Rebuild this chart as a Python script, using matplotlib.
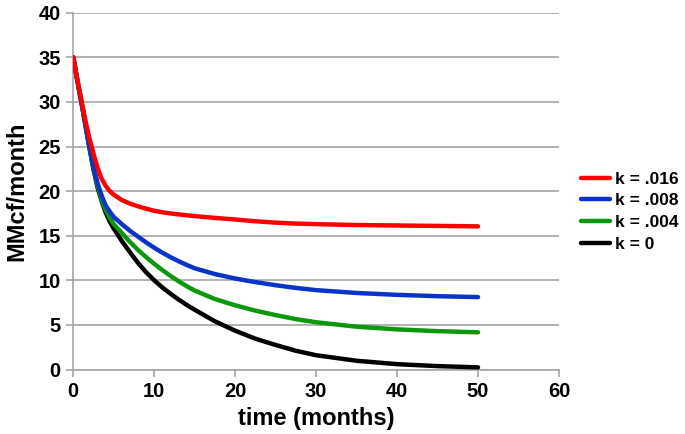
import matplotlib.pyplot as plt

plt.rcParams["font.family"] = ["Liberation Sans", "DejaVu Sans"]

# time (months) and production rate (MMcf/month)
months = [0, 0.5, 1, 1.5, 2, 2.5, 3, 3.5, 4, 4.5, 5, 6, 7, 8, 9, 10, 11, 12, 13, 14,
          15, 17.5, 20, 22.5, 25, 27.5, 30, 35, 40, 45, 50]

rate_k016 = [35, 32.5, 30.2, 27.9, 25.9, 24.2, 22.6, 21.4, 20.6, 20.0, 19.6, 19.0, 18.6,
             18.3, 18.03, 17.8, 17.63, 17.5, 17.39, 17.29, 17.2, 17.0, 16.82, 16.62,
             16.47, 16.36, 16.3, 16.2, 16.15, 16.1, 16.05]
rate_k008 = [35, 32.4, 30.0, 27.5, 25.0, 22.8, 20.9, 19.5, 18.4, 17.7, 17.1, 16.3, 15.55,
             14.9, 14.25, 13.65, 13.1, 12.6, 12.15, 11.73, 11.35, 10.7, 10.2, 9.8, 9.45,
             9.15, 8.9, 8.58, 8.37, 8.22, 8.12]
rate_k004 = [35, 32.4, 30.0, 27.4, 24.9, 22.6, 20.6, 19.1, 17.9, 17.0, 16.3, 15.3, 14.3,
             13.4, 12.6, 11.85, 11.15, 10.5, 9.9, 9.35, 8.85, 7.9, 7.2, 6.6, 6.1, 5.65,
             5.3, 4.8, 4.5, 4.3, 4.17]
rate_k0 = [35, 32.4, 30.0, 27.4, 24.8, 22.4, 20.4, 18.9, 17.6, 16.6, 15.8, 14.4, 13.15,
           11.95, 10.9, 10.0, 9.2, 8.5, 7.85, 7.25, 6.7, 5.4, 4.35, 3.45, 2.75, 2.1, 1.6,
           0.98, 0.6, 0.38, 0.24]

series = [
    ("k = .016", rate_k016, "#ff0000"),
    ("k = .008", rate_k008, "#0a34c8"),
    ("k = .004", rate_k004, "#0c980c"),
    ("k = 0", rate_k0, "#000000"),
]

fig = plt.figure(figsize=(6.85, 4.34), dpi=100)
ax = fig.add_axes([0.107, 0.1486, 0.709, 0.822])

for label, values, colour in series[::-1]:
    ax.plot(months, values, color=colour, linewidth=3.2, solid_capstyle="round",
            solid_joinstyle="round", label=label, zorder=3)

ax.set_xlim(0, 60)
ax.set_ylim(0, 40)
ax.set_xticks(range(0, 61, 10))
ax.set_yticks(range(0, 41, 5))
ax.grid(True, axis="y", color="#a6a6a6", linewidth=1.2)
ax.set_axisbelow(True)

for side in ("top", "right"):
    ax.spines[side].set_visible(False)
for side in ("left", "bottom"):
    ax.spines[side].set_color("#a6a6a6")
    ax.spines[side].set_linewidth(1.2)

ax.tick_params(axis="both", direction="out", length=5, width=1.2, color="#a6a6a6",
               labelsize=14.5, pad=4)
for lbl in ax.get_xticklabels() + ax.get_yticklabels():
    lbl.set_fontweight("bold")

ax.set_xlabel("time (months)", fontsize=17, fontweight="bold", labelpad=4)
ax.set_ylabel("MMcf/month", fontsize=17, fontweight="bold", labelpad=7)

handles, labels = ax.get_legend_handles_labels()
fig.legend(handles[::-1], labels[::-1], loc="center left",
           bbox_to_anchor=(0.848, 0.512), bbox_transform=fig.transFigure,
           frameon=False, prop={"size": 12.5, "weight": "bold"}, handlelength=1.7,
           handletextpad=0.25, labelspacing=0.38, borderaxespad=0, borderpad=0)

fig.savefig("out.png", dpi=100)
